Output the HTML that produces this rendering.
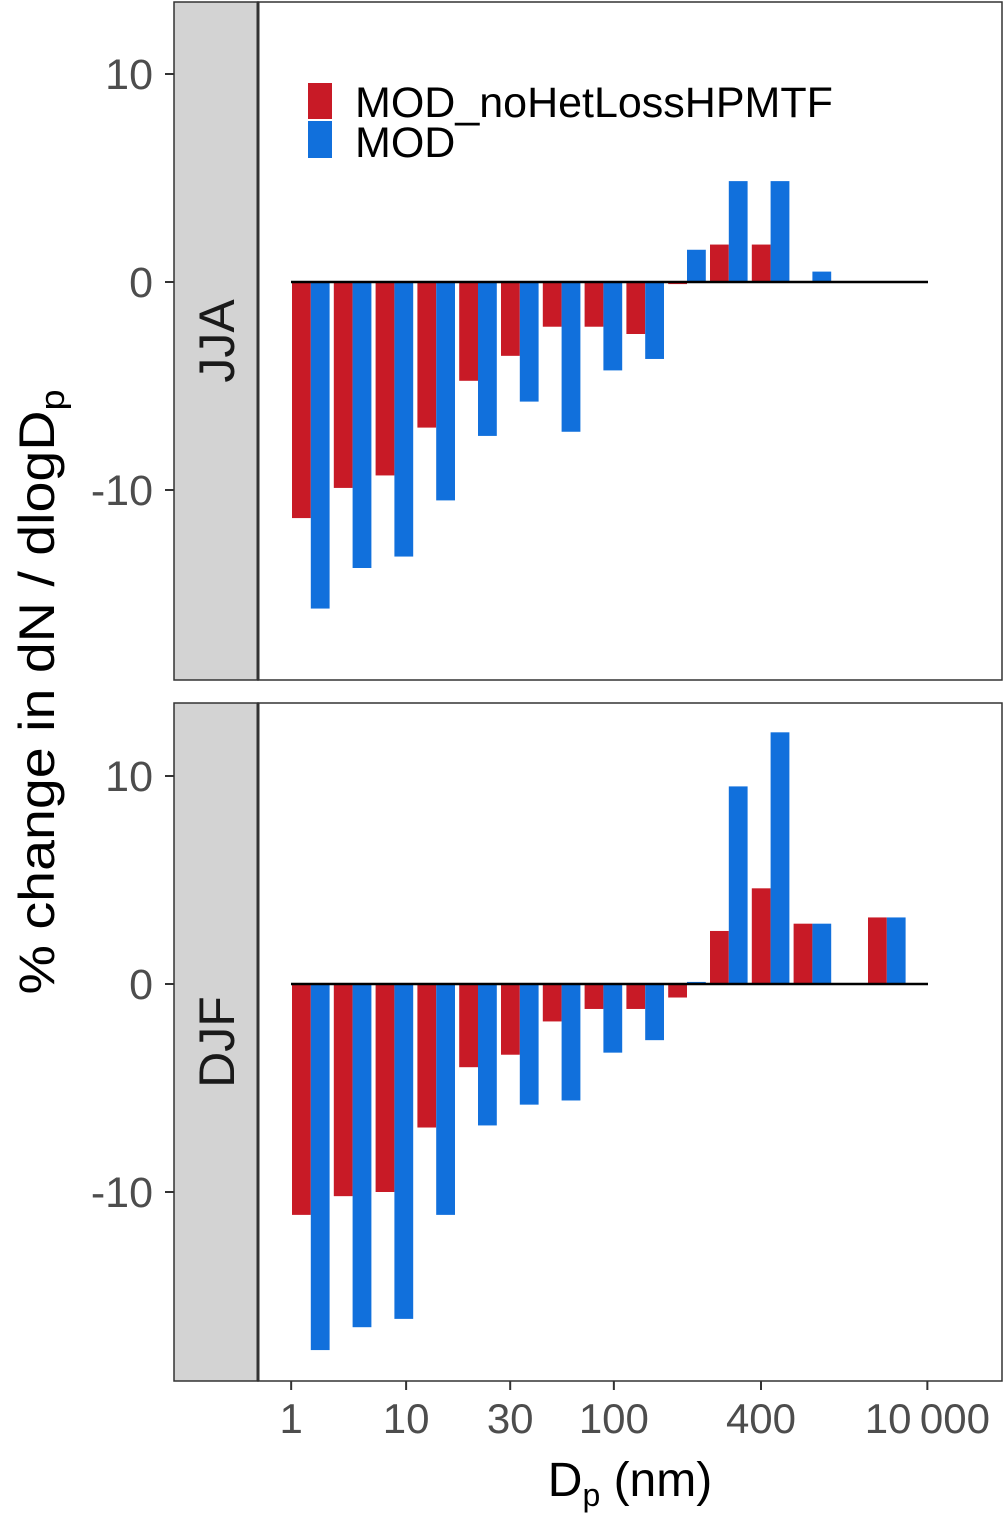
<!DOCTYPE html>
<html><head><meta charset="utf-8"><style>
body{margin:0;background:#fff}
svg{display:block;font-family:"Liberation Sans",Arial,sans-serif}
</style></head><body>
<svg id="chart" width="1004" height="1513" viewBox="0 0 1004 1513">
<g id="panels"></g>
<g>
<rect x="308" y="83" width="24" height="36" fill="#c81a26"/>
<rect x="308" y="121" width="24" height="37" fill="#1170dc"/>
<text x="355" y="117" font-size="43" fill="#000">MOD_noHetLossHPMTF</text>
<text x="355" y="157" font-size="43" fill="#000">MOD</text>
</g>
<text transform="translate(54,692) rotate(-90)" text-anchor="middle" font-size="50" fill="#000" textLength="605" lengthAdjust="spacingAndGlyphs">% change in dN / dlogD<tspan font-size="34" dy="10">p</tspan></text>
<text x="630" y="1496" text-anchor="middle" font-size="48" fill="#000">D<tspan font-size="32" dy="10">p</tspan><tspan dy="-10"> (nm)</tspan></text>
</svg>
<script>
const panelNames = ["JJA","DJF"];
const binPos = [0,1,2,3,4,5,6,7,8,9,10,11,12,13.78];
const jjaRed  = [-11.35,-9.9,-9.3,-7.0,-4.75,-3.55,-2.15,-2.15,-2.5,-0.1,1.8,1.8,0,null];
const jjaBlue = [-15.7,-13.75,-13.2,-10.5,-7.4,-5.75,-7.2,-4.25,-3.7,1.55,4.85,4.85,0.5,null];
const djfRed  = [-11.1,-10.2,-10.0,-6.9,-4.0,-3.4,-1.8,-1.2,-1.2,-0.65,2.55,4.6,2.9,3.2];
const djfBlue = [-17.6,-16.5,-16.1,-11.1,-6.8,-5.8,-5.6,-3.3,-2.7,0.1,9.5,12.1,2.9,3.2];
const yTicks = [10,0,-10];
const yTickLabels = ["10","0","-10"];
const xTickLabels = ["1","10","30","100","400","10\u2009000"];
const xTickPos = [-0.02,2.73,5.22,7.7,11.22,15.2];

const NS="http://www.w3.org/2000/svg";
const g=document.getElementById('panels');
function mk(tag,attrs,parent){const e=document.createElementNS(NS,tag);for(const k in attrs)e.setAttribute(k,attrs[k]);parent.appendChild(e);return e;}
const xScale=p=>292+41.8*p;
const barW=18.8;
const panels=[{top:2,zero:282,red:jjaRed,blue:jjaBlue},{top:703,zero:984,red:djfRed,blue:djfBlue}];
const unit=20.8;
panels.forEach((P,pi)=>{
  const yScale=v=>P.zero-v*unit;
  const pg=mk('g',{},g);
  
  
  const bg=mk('rect',{x:258,y:P.top,width:744,height:678,fill:'#fff',stroke:'#333','stroke-width':1.5},pg);
  
  
  const strip=mk('rect',{x:174,y:P.top,width:84,height:678,fill:'#d3d3d3',stroke:'#333','stroke-width':1.5},pg);
  
  
  const sep=mk('line',{x1:258,x2:258,y1:P.top,y2:P.top+678,stroke:'#333','stroke-width':3},pg);
  
  
  const st=mk('text',{transform:`translate(234,${P.top+339}) rotate(-90)`,'text-anchor':'middle','font-size':50,fill:'#1a1a1a'},pg);
  st.textContent=panelNames[pi];
  
  
  yTicks.forEach((t,i)=>{
    const tk=mk('line',{x1:165,x2:174,y1:yScale(t),y2:yScale(t),stroke:'#333','stroke-width':2},pg);
    
    
    const tl=mk('text',{x:153,y:yScale(t)+15,'text-anchor':'end','font-size':43,fill:'#4d4d4d'},pg);
    tl.textContent=yTickLabels[i];
    
    
  });
  binPos.forEach((p,i)=>{
    [[P.red[i],'#c81a26',0],[P.blue[i],'#1170dc',1]].forEach(([v,c,o])=>{
      if(v===null||v===0)return;
      const y0=yScale(0),y1=yScale(v);
      const r=mk('rect',{x:xScale(p)+o*barW,y:Math.min(y0,y1),width:barW,height:Math.max(Math.abs(y1-y0),1),fill:c},pg);
      
      
    });
  });
  const zl=mk('line',{x1:291,x2:928,y1:yScale(0),y2:yScale(0),stroke:'#000','stroke-width':2.5},pg);
  
  
});
xTickPos.forEach((p,i)=>{
  const x=xScale(p);
  const tk=mk('line',{x1:x,x2:x,y1:1381,y2:1390,stroke:'#333','stroke-width':2},g);
  
  
  const tl=mk('text',{x:x,y:1433,'text-anchor':'middle','font-size':42,fill:'#4d4d4d'},g);
  tl.textContent=xTickLabels[i];
  
  
});
</script>
</body></html>
